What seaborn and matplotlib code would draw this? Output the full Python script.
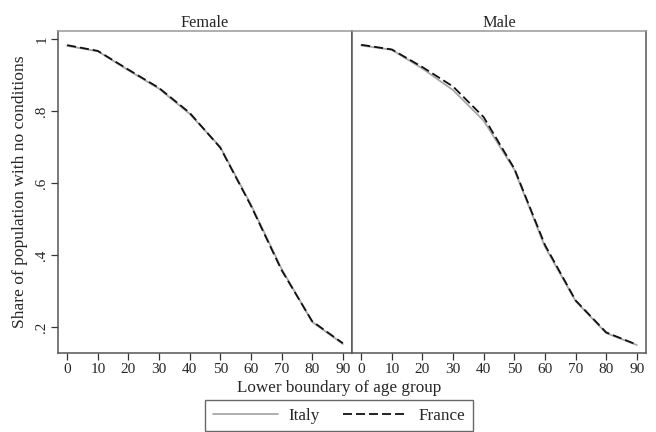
import numpy as np
import pandas as pd
import matplotlib
matplotlib.use("Agg")
import matplotlib.pyplot as plt
import seaborn as sns

sns.set_style("white")
plt.rcParams['font.family'] = ['Liberation Serif', 'DejaVu Serif']

ages = [0, 10, 20, 30, 40, 50, 60, 70, 80, 90]

# share with no conditions
female_italy = [0.981, 0.966, 0.913, 0.862, 0.792, 0.700, 0.540, 0.362, 0.214, 0.153]
female_france = [0.983, 0.967, 0.915, 0.864, 0.795, 0.698, 0.537, 0.358, 0.216, 0.155]
male_italy = [0.982, 0.970, 0.918, 0.858, 0.773, 0.637, 0.423, 0.272, 0.183, 0.150]
male_france = [0.984, 0.971, 0.922, 0.868, 0.783, 0.640, 0.428, 0.274, 0.185, 0.151]

yticks = [0.2, 0.4, 0.6, 0.8, 1.0]
ytick_labels = ['.2', '.4', '.6', '.8', '1']

rows = []
for sex, it, fr in [('Female', female_italy, female_france), ('Male', male_italy, male_france)]:
    for a, v in zip(ages, it):
        rows.append((sex, 'Italy', a, v))
    for a, v in zip(ages, fr):
        rows.append((sex, 'France', a, v))
df = pd.DataFrame(rows, columns=['sex', 'country', 'age', 'share'])

palette = {'Italy': '#a8a8a8', 'France': '#111111'}
dashes = {'Italy': '', 'France': (5, 2.2)}

fig, axes = plt.subplots(1, 2, figsize=(6.56, 4.32), dpi=100, sharey=True)
fig.subplots_adjust(left=0.0884, right=0.9848, bottom=0.183, top=0.928, wspace=0)

for ax, sex in zip(axes, ['Female', 'Male']):
    sub = df[df.sex == sex]
    sns.lineplot(data=sub, x='age', y='share', hue='country', style='country',
                 palette=palette, dashes=dashes, hue_order=['Italy', 'France'],
                 linewidth=1.3, ax=ax, legend=False)
    ax.set_xlim(-3, 93)
    ax.set_ylim(0.128, 1.022)
    ax.set_xticks(ages)
    ax.set_xticklabels([str(a) for a in ages], fontsize=11)
    ax.set_title(sex, fontsize=11.8, pad=3)
    ax.set_xlabel('')
    ax.set_ylabel('')
    ax.tick_params(axis='both', direction='out', length=5, width=0.9,
                   color='#333333', bottom=True, left=True, pad=2)
    for side in ['top', 'right', 'bottom', 'left']:
        ax.spines[side].set_color('#555555')
        ax.spines[side].set_linewidth(1.1)
    ax.spines['top'].set_color('#999999')

axes[0].set_yticks(yticks)
axes[0].set_yticklabels(ytick_labels, fontsize=11, rotation=90, va='center')
axes[1].tick_params(axis='y', left=False)
axes[0].set_ylabel('Share of population with no conditions', fontsize=12.6, labelpad=5)

fig.text(0.517, 0.102, 'Lower boundary of age group', ha='center', va='center', fontsize=12.3)

handles = [plt.Line2D([], [], color=palette['Italy'], lw=1.3),
           plt.Line2D([], [], color=palette['France'], lw=1.3, dashes=dashes['France'])]
leg = fig.legend(handles, ['Italy', 'France'], loc='upper center',
                 bbox_to_anchor=(0.517, 0.074), ncol=2, fontsize=12.3,
                 frameon=True, fancybox=False, edgecolor='#444444',
                 handlelength=3.8, handletextpad=0.6, columnspacing=1.4,
                 borderpad=0.45, borderaxespad=0)
leg.get_frame().set_linewidth(1.0)

fig.savefig('out.png', dpi=100)
